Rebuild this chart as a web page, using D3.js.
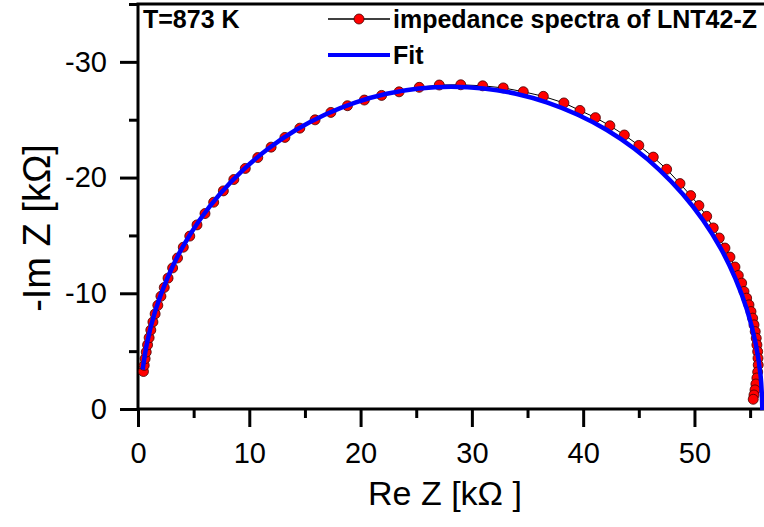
<!DOCTYPE html>
<html>
<head>
<meta charset="utf-8">
<script src="https://cdn.jsdelivr.net/npm/d3@7"></script>
<style>
  body { margin: 0; background: #fff; }
  text { font-family: "Liberation Sans", Arial, sans-serif; }
</style>
</head>
<body>
<svg id="chart" width="764" height="527"></svg>
<script>
// measured impedance spectrum (kOhm)
const reZ = [0.49,0.56,0.64,0.74,0.86,1.00,1.15,1.34,1.54,1.78,2.06,2.36,2.70,3.11,3.55,4.07,4.65,5.30,6.02,6.80,
  7.67,8.61,9.64,10.76,11.96,13.20,14.54,15.91,17.33,18.82,20.34,21.89,23.46,25.27,27.07,29.00,30.97,32.82,34.62,36.42,
  38.27,39.71,41.10,42.40,43.70,45.00,46.30,47.50,48.70,49.66,50.40,51.10,51.69,52.23,52.74,53.19,53.64,53.94,54.24,
  54.45,54.69,54.90,55.08,55.23,55.35,55.46,55.55,55.61,55.68,55.71,55.73,55.68,55.61,55.52,55.44,55.35,55.28];
const imZ = [-3.24,-3.77,-4.35,-4.92,-5.54,-6.16,-6.82,-7.52,-8.22,-8.96,-9.74,-10.50,-11.31,-12.19,-13.05,-13.98,-14.94,-15.91,-16.89,-17.87,
  -18.85,-19.83,-20.79,-21.73,-22.63,-23.47,-24.27,-24.99,-25.63,-26.21,-26.70,-27.10,-27.41,-27.80,-28.00,-28.02,-27.93,-27.75,-27.42,-27.02,
  -26.45,-25.80,-25.18,-24.48,-23.68,-22.78,-21.77,-20.72,-19.48,-18.44,-17.58,-16.65,-15.65,-14.78,-13.91,-13.13,-12.27,-11.54,-10.88,
  -10.16,-9.58,-9.00,-8.42,-7.85,-7.27,-6.69,-6.12,-5.54,-4.96,-4.39,-3.81,-3.20,-2.68,-2.16,-1.65,-1.21,-0.84];

// fit curve
const fitRe = [0.42,0.81,1.57,2.62,3.94,5.54,7.38,9.45,11.72,14.18,16.78,19.51,22.34,25.23,28.15,31.07,33.96,36.79,
  39.52,42.13,44.58,46.85,48.92,50.76,52.36,53.68,54.73,55.49,55.95,56.10];
const fitIm = [-3.40,-5.71,-8.54,-11.27,-13.88,-16.33,-18.60,-20.67,-22.51,-24.11,-25.43,-26.48,-27.24,-27.70,-27.85,-27.70,-27.24,-26.48,
  -25.43,-24.11,-22.51,-20.67,-18.60,-16.33,-13.88,-11.27,-8.54,-5.71,-2.82,0.10];

const xMajor = [0,10,20,30,40,50];
const xMinor = [5,15,25,35,45,55];
const yMajor = [0,-10,-20,-30];
const yMinor = [-5,-15,-25,-35];

const svg = d3.select('#chart');
const margin = { left: 138, top: 4, bottom: 409 };

const xScale = d3.scaleLinear().domain([0, 56.5]).range([margin.left, 766.8]);
const yScale = d3.scaleLinear().domain([0, -35]).range([margin.bottom, margin.top]);

const data = reZ.map((r, i) => ({ re: r, im: imZ[i] }));
const fit = fitRe.map((r, i) => ({ re: r, im: fitIm[i] }));

// axes
const xAxis = d3.axisBottom(xScale).tickValues(xMajor).tickSize(18).tickSizeOuter(0)
  .tickPadding(15).tickFormat(d => String(d));
const xAxisMinor = d3.axisBottom(xScale).tickValues(xMinor).tickSize(9).tickSizeOuter(0).tickFormat('');
const yAxis = d3.axisLeft(yScale).tickValues(yMajor).tickSize(18).tickSizeOuter(0)
  .tickPadding(13).tickFormat(d => String(d));
const yAxisMinor = d3.axisLeft(yScale).tickValues(yMinor).tickSize(9).tickSizeOuter(0).tickFormat('');

function styleAxis(g) {
  g.select('.domain').remove();
  g.selectAll('.tick line').attr('stroke', '#000').attr('stroke-width', 3);
  g.selectAll('.tick text').attr('fill', '#000').style('font-size', '29px');
}

svg.append('g').attr('transform', `translate(0,${margin.bottom})`).call(xAxisMinor).call(styleAxis);
svg.append('g').attr('transform', `translate(0,${margin.bottom})`).call(xAxis).call(styleAxis);
svg.append('g').attr('transform', `translate(${margin.left},0)`).call(yAxisMinor).call(styleAxis);
svg.append('g').attr('transform', `translate(${margin.left},0)`).call(yAxis).call(styleAxis);

// frame
svg.append('path')
  .attr('d', `M${margin.left},${margin.bottom}H770M${margin.left},${margin.bottom + 1.5}V${margin.top}M${margin.left - 1.5},${margin.top}H770`)
  .attr('stroke', '#000').attr('stroke-width', 3).attr('fill', 'none');

// measured data
const line = d3.line().x(d => xScale(d.re)).y(d => yScale(d.im));
svg.append('path').datum(data).attr('d', line)
  .attr('fill', 'none').attr('stroke', '#000').attr('stroke-width', 1);
svg.append('g').selectAll('circle').data(data).enter().append('circle')
  .attr('cx', d => xScale(d.re)).attr('cy', d => yScale(d.im)).attr('r', 5)
  .attr('fill', '#ff0000').attr('stroke', '#400000').attr('stroke-width', 0.8);

// fit
const fitLine = d3.line().x(d => xScale(d.re)).y(d => yScale(d.im)).curve(d3.curveCatmullRom);
svg.append('path').datum(fit).attr('d', fitLine)
  .attr('fill', 'none').attr('stroke', '#0000ff').attr('stroke-width', 4.5);

// axis titles
svg.append('text').attr('x', 445).attr('y', 505).attr('text-anchor', 'middle')
  .style('font-size', '34px').text('Re Z [k\u03A9 ]');
svg.append('text').attr('transform', 'translate(50,228) rotate(-90)').attr('text-anchor', 'middle')
  .style('font-size', '38px').text('-Im Z [k\u03A9]');

// legend
const legend = svg.append('g').style('font-weight', 'bold').style('font-size', '25px');
legend.append('text').attr('x', 143).attr('y', 28).text('T=873 K');
legend.append('line').attr('x1', 328).attr('x2', 390).attr('y1', 19).attr('y2', 19)
  .attr('stroke', '#000').attr('stroke-width', 1.5);
legend.append('circle').attr('cx', 359).attr('cy', 19).attr('r', 5)
  .attr('fill', '#ff0000').attr('stroke', '#400000').attr('stroke-width', 0.8);
legend.append('text').attr('x', 393).attr('y', 28).text('impedance spectra of LNT42-Z');
legend.append('line').attr('x1', 328).attr('x2', 390).attr('y1', 55).attr('y2', 55)
  .attr('stroke', '#0000ff').attr('stroke-width', 4);
legend.append('text').attr('x', 393).attr('y', 64).text('Fit');
</script>
</body>
</html>
